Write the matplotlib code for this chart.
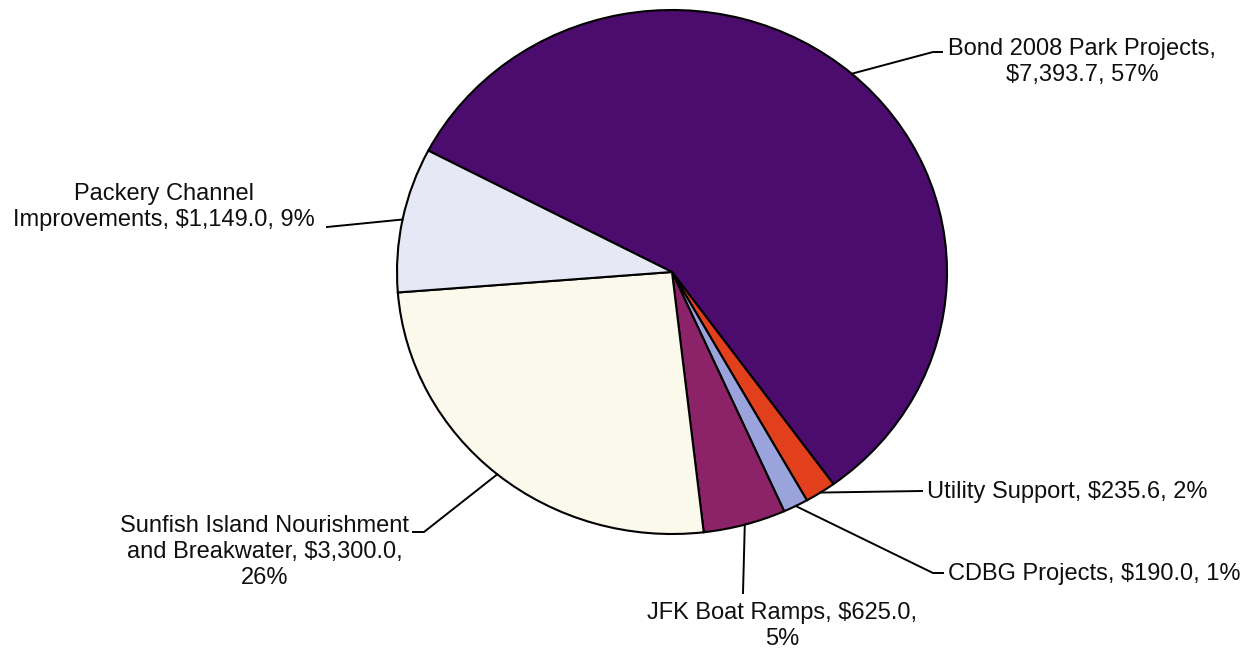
import numpy as np
import matplotlib
matplotlib.use("Agg")
import matplotlib.pyplot as plt

# data (in thousands of dollars), clockwise from the Bond slice
names = ["Bond 2008 Park Projects", "Utility Support", "CDBG Projects",
         "JFK Boat Ramps", "Sunfish Island Nourishment and Breakwater",
         "Packery Channel Improvements"]
values = [7393.7, 235.6, 190.0, 625.0, 3300.0, 1149.0]
colors = ["#4b0c6e", "#e2401c", "#9aa3dc", "#8c2369", "#fbf9ec", "#e6e8f6"]

W, H = 1255, 649
CX, CY, RX, RY = 672, 272, 275, 262   # pie centre / radii in pixels (from top)

plt.rcParams['font.family'] = ['Liberation Sans', 'DejaVu Sans']

fig = plt.figure(figsize=(W / 100, H / 100), dpi=100)
ax = fig.add_axes([(CX - RX) / W, (H - CY - RY) / H, 2 * RX / W, 2 * RY / H])

wedges, _ = ax.pie(values, colors=colors, startangle=152.4, counterclock=False,
                   radius=1.0, wedgeprops=dict(edgecolor="black", linewidth=1.5))
ax.set_xlim(-1, 1)
ax.set_ylim(-1, 1)
ax.set_aspect('auto')
ax.axis('off')

total = sum(values)


def px(x, y):
    # pixel position (from top-left) -> data coords
    return (x - CX) / RX, (CY - y) / RY


# how each label is broken into lines
line_splits = [
    ["Bond 2008 Park Projects,", "${:,.1f}, {}%"],
    ["Utility Support, ${:,.1f}, {}%"],
    ["CDBG Projects, ${:,.1f}, {}%"],
    ["JFK Boat Ramps, ${:,.1f},", "{}%"],
    ["Sunfish Island Nourishment", "and Breakwater, ${:,.1f},", "{}%"],
    ["Packery Channel", "Improvements, ${:,.1f}, {}%"],
]
# (x, first baseline, ha)
text_pos = [(1082, 55, 'center'), (927, 498, 'left'), (948, 580, 'left'),
            (782, 619, 'center'), (265, 532, 'center'), (164, 200, 'center')]
# leader points after the slice edge (pixels)
leaders = [[(933, 52), (942, 52)],
           [(922, 491)],
           [(933, 573), (943, 573)],
           [(743, 593)],
           [(424, 532), (413, 532)],
           [(327, 227)]]

for w, v, lines, (tx, ty, ha), pts in zip(wedges, values, line_splits, text_pos, leaders):
    p = round(100 * v / total)
    filled = []
    args = [v, p]
    for ln in lines:
        k = ln.count("{")
        filled.append(ln.format(*args[:k]))
        args = args[k:]
    for i, ln in enumerate(filled):
        fig.text(tx / W, 1 - (ty + 26 * i) / H, ln, ha=ha, va='baseline',
                 fontsize=17, color="#101010")
    mid = np.deg2rad((w.theta1 + w.theta2) / 2)
    xs = [np.cos(mid)] + [px(*q)[0] for q in pts]
    ys = [np.sin(mid)] + [px(*q)[1] for q in pts]
    ax.plot(xs, ys, color="black", linewidth=1.4, clip_on=False)

fig.savefig("out.png", dpi=100, facecolor="white")
